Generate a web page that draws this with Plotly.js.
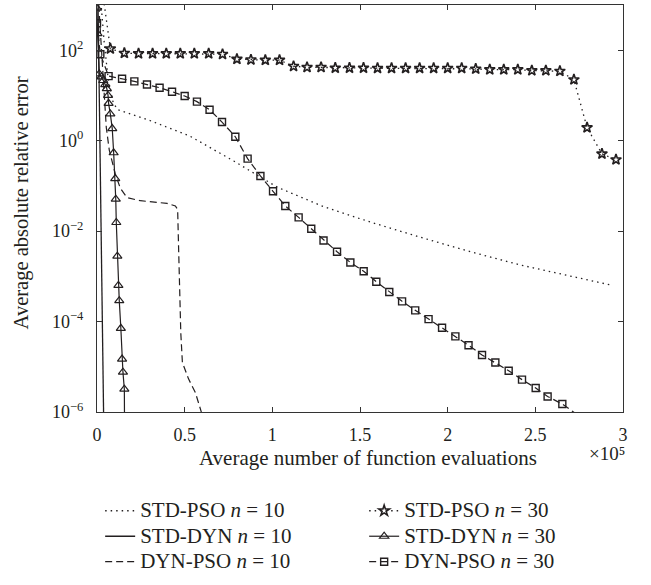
<!DOCTYPE html>
<html>
<head>
<meta charset="utf-8">
<script src="https://cdn.plot.ly/plotly-3.0.1.min.js"></script>
<style>html,body{margin:0;padding:0;background:#fff;}#chart{width:651px;height:585px;}</style>
</head>
<body>
<div id="chart"></div>
<script>
// x values in units of 10^5 function evaluations
var stdPso10X = [0.02, 0.042, 0.064, 0.093, 0.121, 0.30, 0.53, 0.78, 0.93, 1.03, 1.29, 1.56, 1.84, 2.13, 2.41, 2.70, 2.94];
var stdPso10Y = [1500, 134, 23, 6.7, 4.8, 2.8, 1.26, 0.355, 0.158, 0.093, 0.035, 0.0158, 0.0074, 0.0035, 0.0018, 0.0010, 0.00063];

var stdPso30X = [0.024, 0.076, 0.156, 0.237, 0.317, 0.395, 0.475, 0.555, 0.637, 0.716, 0.798, 0.878, 0.960, 1.041, 1.121, 1.198, 1.278, 1.359, 1.44, 1.52, 1.60, 1.68, 1.76, 1.84, 1.92, 2.00, 2.08, 2.16, 2.24, 2.32, 2.40, 2.48, 2.56, 2.64, 2.72, 2.795, 2.88, 2.96];
var stdPso30Y = [3200, 108, 86, 84, 84, 84, 84, 84, 84, 81.5, 63.5, 61.4, 60.4, 60.4, 44.2, 42, 42, 40.5, 40.5, 40.5, 40, 40, 40, 40, 40, 40, 40, 38.6, 37.2, 37.2, 37.2, 35.5, 35.5, 34.4, 22.3, 1.94, 0.51, 0.38];

var stdDyn10X = [0.006, 0.016, 0.026, 0.038, 0.041];
var stdDyn10Y = [1000, 1, 1e-3, 1e-6, 1e-7];

var stdDyn30X = [0.0, 0.003, 0.013, 0.025, 0.036, 0.047, 0.056, 0.063, 0.066, 0.076, 0.087, 0.095, 0.104, 0.107, 0.110, 0.116, 0.122, 0.127, 0.136, 0.143, 0.148, 0.156, 0.158];
var stdDyn30Y = [850, 232, 30, 25.7, 21.4, 17.4, 14.2, 10, 6.7, 3.9, 1.85, 0.54, 0.145, 0.051, 0.0155, 0.0028, 6.3e-4, 2.9e-4, 7.1e-5, 1.48e-5, 7.6e-6, 3.2e-6, 1e-7];

var dynPso10X = [0.01, 0.029, 0.042, 0.053, 0.070, 0.104, 0.133, 0.171, 0.247, 0.40, 0.447, 0.46, 0.465, 0.472, 0.478, 0.487, 0.522, 0.561, 0.595, 0.61];
var dynPso10Y = [1000, 57, 8.7, 1.95, 0.62, 0.186, 0.089, 0.055, 0.047, 0.041, 0.036, 0.030, 0.0049, 4.1e-4, 5.5e-5, 1.25e-5, 5.4e-6, 2.7e-6, 1e-6, 3e-7];

var dynPso30X = [0, 0.019, 0.066, 0.143, 0.213, 0.285, 0.357, 0.428, 0.500, 0.570, 0.642, 0.713, 0.789, 0.859, 0.932, 1.004, 1.074, 1.150, 1.222, 1.292, 1.369, 1.445, 1.521, 1.593, 1.667, 1.740, 1.815, 1.891, 1.968, 2.044, 2.119, 2.196, 2.272, 2.348, 2.424, 2.502, 2.570, 2.654, 2.80];
var dynPso30Y = [395, 81.5, 26.8, 23.4, 20.5, 17.4, 14.8, 12.1, 9.7, 7.3, 4.83, 2.58, 1.22, 0.40, 0.166, 0.076, 0.036, 0.0201, 0.0113, 0.0062, 0.0035, 0.00203, 0.0013, 7.6e-4, 4.5e-4, 2.8e-4, 1.77e-4, 1.13e-4, 7.3e-5, 4.7e-5, 3.0e-5, 1.82e-5, 1.24e-5, 8.2e-6, 5.2e-6, 3.4e-6, 2.2e-6, 1.5e-6, 5.9e-7];

var seriesNames = ['STD-PSO <i>n</i> = 10', 'STD-PSO <i>n</i> = 30', 'STD-DYN <i>n</i> = 10', 'STD-DYN <i>n</i> = 30', 'DYN-PSO <i>n</i> = 10', 'DYN-PSO <i>n</i> = 30'];

var xTickVals = [0, 0.5, 1, 1.5, 2, 2.5, 3];
var xTickText = ['0', '0.5', '1', '1.5', '2', '2.5', '3'];
var yTickVals = [1e-6, 1e-4, 1e-2, 1, 100];
var yTickText = ['10<sup>\u22126</sup>', '10<sup>\u22124</sup>', '10<sup>\u22122</sup>', '10<sup>0</sup>', '10<sup>2</sup>'];

var xTitle = 'Average number of function evaluations';
var yTitle = 'Average absolute relative error';
var xExponent = '\u00d710\u2075';

var INK = '#231f20';
var FONT = 'Liberation Serif, Times New Roman, serif';
var DOT = '1.5px,4px';
var DASH = '7px,4px';

function legendLabel(s) { return '<span style="font-size:21px">' + s + '</span>'; }

var traces = [
  {x: stdPso10X, y: stdPso10Y, name: legendLabel(seriesNames[0]), mode: 'lines', line: {color: INK, width: 1.3, dash: DOT}},
  {x: stdPso30X, y: stdPso30Y, name: legendLabel(seriesNames[1]), mode: 'lines+markers', line: {color: INK, width: 1.3, dash: DOT},
   marker: {symbol: 'star-open', size: 8, color: INK, line: {color: INK, width: 1.6}}},
  {x: stdDyn10X, y: stdDyn10Y, name: legendLabel(seriesNames[2]), mode: 'lines', line: {color: INK, width: 1.3}},
  {x: stdDyn30X, y: stdDyn30Y, name: legendLabel(seriesNames[3]), mode: 'lines+markers', line: {color: INK, width: 1.2},
   marker: {symbol: 'triangle-up-open', size: 8, color: INK, line: {color: INK, width: 1.2}}},
  {x: dynPso10X, y: dynPso10Y, name: legendLabel(seriesNames[4]), mode: 'lines', line: {color: INK, width: 1.2, dash: DASH}},
  {x: dynPso30X, y: dynPso30Y, name: legendLabel(seriesNames[5]), mode: 'lines+markers', line: {color: INK, width: 1.2, dash: DASH},
   marker: {symbol: 'square-open', size: 7, color: INK, line: {color: INK, width: 1.4}}}
];

var axisCommon = {
  showline: true, mirror: 'ticks', linecolor: '#333', linewidth: 1,
  ticks: 'inside', ticklen: 5, tickcolor: '#333', tickwidth: 1,
  showgrid: false, zeroline: false,
  tickfont: {family: FONT, size: 18, color: INK}
};

var layout = {
  width: 651, height: 585,
  margin: {l: 97, r: 28, t: 5, b: 165},
  paper_bgcolor: '#fff', plot_bgcolor: '#fff',
  font: {family: FONT, color: INK, size: 18},
  showlegend: true,
  xaxis: Object.assign({}, axisCommon, {
    range: [0, 3], tickmode: 'array', tickvals: xTickVals, ticktext: xTickText,
    ticklabelstandoff: 6
  }),
  yaxis: Object.assign({}, axisCommon, {
    type: 'log', range: [-6, 3], tickmode: 'array', tickvals: yTickVals, ticktext: yTickText,
    ticklabelstandoff: 9
  }),
  legend: {
    orientation: 'h', x: 0.006, xanchor: 'left', y: -0.199, yanchor: 'top',
    entrywidth: 219, entrywidthmode: 'pixels',
    font: {family: FONT, size: 17.3, color: INK}, bgcolor: 'rgba(0,0,0,0)', traceorder: 'normal'
  },
  annotations: [
    {xref: 'paper', yref: 'paper', x: 0.516, y: -0.114, xanchor: 'center', yanchor: 'middle',
     text: xTitle, showarrow: false, font: {family: FONT, size: 21, color: INK}},
    {xref: 'paper', yref: 'paper', x: -0.1428, y: 0.5147, xanchor: 'center', yanchor: 'middle', textangle: -90,
     text: yTitle, showarrow: false, font: {family: FONT, size: 20.5, color: INK}},
    {xref: 'paper', yref: 'paper', x: 1.008, y: -0.0715, xanchor: 'right', yanchor: 'top',
     text: xExponent, showarrow: false, font: {family: FONT, size: 19, color: INK}}
  ]
};

Plotly.newPlot('chart', traces, layout, {displayModeBar: false, staticPlot: true});
</script>
</body>
</html>
